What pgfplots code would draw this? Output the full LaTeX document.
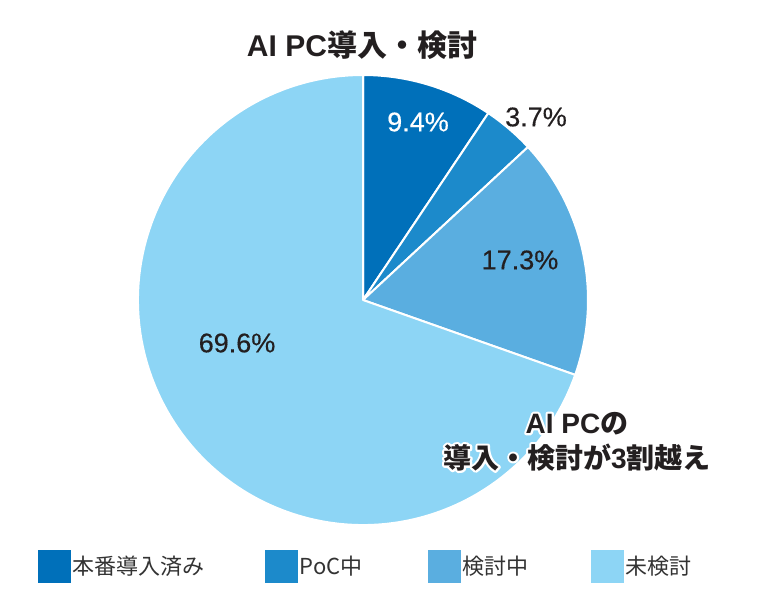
\documentclass[border=0pt]{standalone}
\usepackage{pgfplots}
\usepackage{pgfplotstable}
\pgfplotsset{compat=1.18}
\usepackage{fontspec}
\setmainfont{Liberation Sans}
\newfontfamily\jp{Noto Sans CJK JP}
\newfontfamily\pctfamily[FakeBold=0.35]{Liberation Sans}

\definecolor{slice0}{HTML}{0070BA}
\definecolor{slice1}{HTML}{1C8ACB}
\definecolor{slice2}{HTML}{5AAEE0}
\definecolor{slice3}{HTML}{8DD5F5}
\definecolor{ink}{HTML}{231F20}
\definecolor{legtext}{HTML}{333333}

% share in %, label position in px of the 760x595 frame (y down)
\pgfplotstableread{
value lx  ly  lcol
9.4   418 122 white
3.7   536 117 ink
17.3  520 260 ink
69.6  237 343 ink
}\piedata

\newcommand\pctfont{\pctfamily\fontsize{13.5}{16}\selectfont}
\newcommand\annottext{AI PC{\jp の}\\{\jp 導入・検討が}3{\jp 割越え}}
% white outline: stroke the glyphs of the copy underneath
\newcommand\outlined[1]{\special{pdf:literal direct 2 Tr 2.2 w 1 j 1 1 1 RG}#1\special{pdf:literal direct 0 Tr}}

\begin{document}
\begin{tikzpicture}
\begin{axis}[
  x=0.5pt, y=0.5pt,
  xmin=0, xmax=760, ymin=0, ymax=595,
  y dir=reverse,
  hide axis, clip=false,
  legend image code/.code={\fill[#1] (0pt,-8.25pt) rectangle (16.5pt,8.25pt);},
  legend style={at={(axis cs:38,566.5)}, anchor=west, draw=none, fill=none,
    inner sep=0pt, outer sep=0pt, column sep=1pt,
    font=\jp\fontsize{11}{13}\selectfont, text=legtext,
    nodes={inner sep=0pt}},
  legend columns=4,
]
\path (rel axis cs:0,0) rectangle (rel axis cs:1,1);

% wedges, clockwise from 12 o'clock
\pgfplotstablegetrowsof{\piedata}
\pgfmathtruncatemacro\lastrow{\pgfplotsretval-1}
\def\cum{0}
\pgfplotsforeachungrouped \i in {0,...,\lastrow}{%
  \pgfplotstablegetelem{\i}{value}\of\piedata \let\val\pgfplotsretval
  \pgfmathsetmacro\a{90-3.6*\cum}
  \pgfmathsetmacro\cum{\cum+\val}
  \pgfmathsetmacro\b{90-3.6*\cum}
  \edef\slicecmd{\noexpand\fill[slice\i, draw=white, line width=1pt, line join=round]
    (axis cs:363,300) -- ++(\a:112.5pt) arc[start angle=\a, end angle=\b, radius=112.5pt] -- cycle;}
  \slicecmd
}

% percentage labels
\pgfplotsforeachungrouped \i in {0,...,\lastrow}{%
  \pgfplotstablegetelem{\i}{value}\of\piedata \let\val\pgfplotsretval
  \pgfplotstablegetelem{\i}{lx}\of\piedata \let\lx\pgfplotsretval
  \pgfplotstablegetelem{\i}{ly}\of\piedata \let\ly\pgfplotsretval
  \pgfplotstablegetelem{\i}{lcol}\of\piedata \let\lcol\pgfplotsretval
  \edef\labelcmd{\noexpand\node[text=\lcol, font=\noexpand\pctfont] at (axis cs:\lx,\ly) {\val\noexpand\%};}
  \labelcmd
}

% title
\node[font=\bfseries\fontsize{15}{18}\selectfont, text=ink] at (axis cs:362,45) {AI PC{\jp 導入・検討}};

% callout with white halo
\node[font=\bfseries\fontsize{14}{17.5}\selectfont, align=center, text=white]
  at (axis cs:577,441.5) {\outlined{AI PC{\jp の}}\\\outlined{{\jp 導入・検討が}3{\jp 割越え}}};
\node[font=\bfseries\fontsize{14}{17.5}\selectfont, align=center, text=ink]
  at (axis cs:577,441.5) {\annottext};

\addlegendimage{fill=slice0, draw=none}
\addlegendentry{\makebox[95pt][l]{本番導入済み}}
\addlegendimage{fill=slice1, draw=none}
\addlegendentry{\makebox[63pt][l]{PoC中}}
\addlegendimage{fill=slice2, draw=none}
\addlegendentry{\makebox[63pt][l]{検討中}}
\addlegendimage{fill=slice3, draw=none}
\addlegendentry{未検討}
\end{axis}
\end{tikzpicture}
\end{document}
